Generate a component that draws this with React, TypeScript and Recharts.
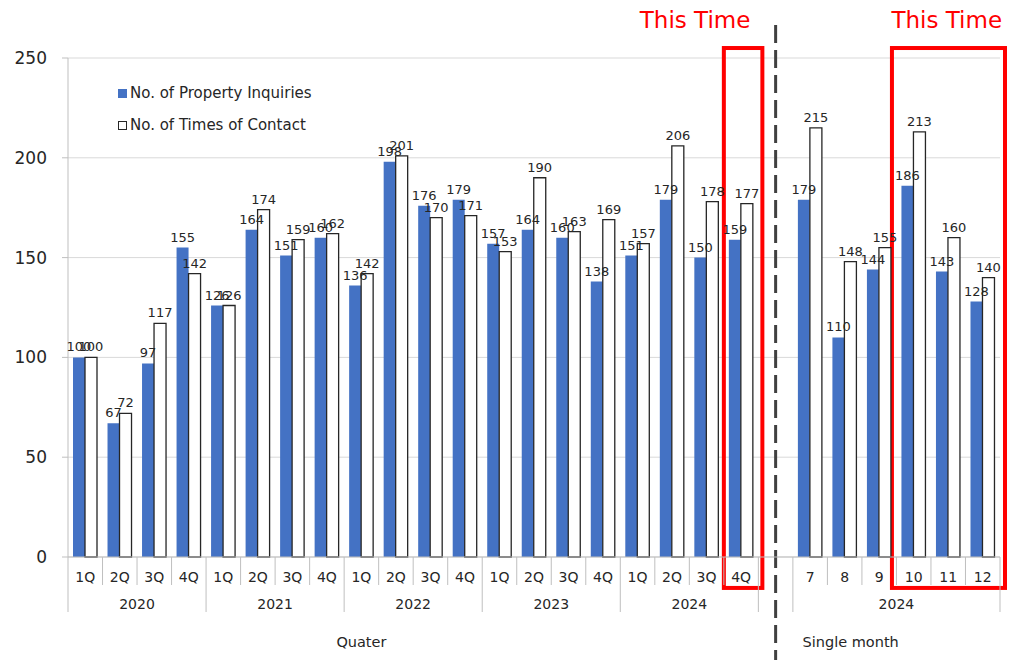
import React from 'react';
import {
  BarChart,
  Bar,
  XAxis,
  YAxis,
  CartesianGrid,
  LabelList,
  Legend,
  ReferenceArea,
  ReferenceLine,
} from 'recharts';

// quarterly figures (2020 1Q = 100)
const quarterYears = ['2020', '2021', '2022', '2023', '2024'];
const quarterLabels = ['1Q', '2Q', '3Q', '4Q'];
const quarterInquiries = [100, 67, 97, 155, 126, 164, 151, 160, 136, 198, 176, 179, 157, 164, 160, 138, 151, 179, 150, 159];
const quarterContacts = [100, 72, 117, 142, 126, 174, 159, 162, 142, 201, 170, 171, 153, 190, 163, 169, 157, 206, 178, 177];

// single month figures
const monthYear = '2024';
const monthLabels = ['7', '8', '9', '10', '11', '12'];
const monthInquiries = [179, 110, 144, 186, 143, 128];
const monthContacts = [215, 148, 155, 213, 160, 140];

const yTicks = [0, 50, 100, 150, 200, 250];

const BLUE = '#4472C4';
const DARK = '#262626';
const GRID = '#d9d9d9';
const AXIS = '#bfbfbf';
const RED = '#ff0000';
const FONT = '"DejaVu Sans", Verdana, sans-serif';

const W = 1021;
const H = 660;
const PLOT_LEFT = 68;
const PLOT_RIGHT = 1000;
const PLOT_BOTTOM = 557;

type Row = {
  key: string;
  label: string;
  year: string;
  showYear: boolean;
  groupStart: boolean;
  inquiries: number | null;
  contacts: number | null;
};

const rows: Row[] = [];
quarterYears.forEach((yr, yi) => {
  quarterLabels.forEach((q, qi) => {
    rows.push({
      key: `${yr}-${q}`,
      label: q,
      year: yr,
      showYear: qi === 1,
      groupStart: qi === 0,
      inquiries: quarterInquiries[yi * 4 + qi],
      contacts: quarterContacts[yi * 4 + qi],
    });
  });
});
rows.push({ key: 'gap', label: '', year: '', showYear: false, groupStart: true, inquiries: null, contacts: null });
monthLabels.forEach((m, mi) => {
  rows.push({
    key: `m-${m}`,
    label: m,
    year: monthYear,
    showYear: mi === 2,
    groupStart: mi === 0,
    inquiries: monthInquiries[mi],
    contacts: monthContacts[mi],
  });
});

const BAND = (PLOT_RIGHT - PLOT_LEFT) / rows.length;

// two level category axis with separators
const CategoryTick = ({ x, y, index }: any) => {
  const row = rows[index];
  if (!row) return null;
  const left = x - BAND / 2;
  const right = x + BAND / 2;
  const isLast = index === rows.length - 1;
  return (
    <g>
      <line x1={left} x2={left} y1={y} y2={row.groupStart ? y + 55 : y + 28} stroke={AXIS} strokeWidth={1} />
      {isLast && <line x1={right} x2={right} y1={y} y2={y + 55} stroke={AXIS} strokeWidth={1} />}
      <text x={x} y={y + 25} textAnchor="middle" fontSize={14} fill={DARK} fontFamily={FONT}>
        {row.label}
      </text>
      {row.showYear && (
        <text x={right} y={y + 52} textAnchor="middle" fontSize={14} fill={DARK} fontFamily={FONT}>
          {row.year}
        </text>
      )}
      {index === 8 && (
        <text x={x} y={y + 90} textAnchor="middle" fontSize={14.5} fill={DARK} fontFamily={FONT}>
          Quater
        </text>
      )}
      {index === 22 && (
        <text x={x + 6} y={y + 90} textAnchor="middle" fontSize={14.5} fill={DARK} fontFamily={FONT}>
          Single month
        </text>
      )}
    </g>
  );
};

const ValueLabel = ({ x, y, width, value }: any) => {
  if (value == null) return null;
  return (
    <text x={x + width / 2} y={y - 6} textAnchor="middle" fontSize={13} fill={DARK} fontFamily={FONT}>
      {value}
    </text>
  );
};

const makeBox = (padL: number, padR: number, anchor: 'start' | 'end', textDx: number) => (props: any) => {
  const { x, y, width, height } = props;
  const bx = x - padL;
  const bw = width + padL + padR;
  const tx = anchor === 'start' ? x + textDx : x + width + textDx;
  return (
    <g>
      <rect x={bx} y={y} width={bw} height={height} fill="none" stroke={RED} strokeWidth={4} />
      <text x={tx} y={y - 20} textAnchor={anchor} fontSize={23} fill={RED} fontFamily={FONT}>
        This Time
      </text>
    </g>
  );
};

const LegendContent = () => (
  <div style={{ fontFamily: FONT, fontSize: 15, color: DARK, lineHeight: '32px' }}>
    <div style={{ display: 'flex', alignItems: 'center' }}>
      <span style={{ width: 9, height: 9, background: BLUE, marginRight: 3, display: 'inline-block' }} />
      No. of Property Inquiries
    </div>
    <div style={{ display: 'flex', alignItems: 'center' }}>
      <span style={{ width: 7, height: 7, background: '#fff', border: `1px solid ${DARK}`, marginRight: 3, display: 'inline-block' }} />
      No. of Times of Contact
    </div>
  </div>
);

export default function App() {
  return (
    <div style={{ position: 'absolute', left: 0, top: 0, width: W, height: H, background: '#fff' }}>
      <BarChart
        width={W}
        height={H}
        data={rows}
        margin={{ top: 58, right: W - PLOT_RIGHT, left: 0, bottom: 0 }}
        barCategoryGap={5}
        barGap={0}
      >
        <CartesianGrid vertical={false} stroke={GRID} strokeWidth={1} />
        <XAxis
          dataKey="key"
          interval={0}
          height={H - PLOT_BOTTOM}
          tickLine={false}
          tickSize={0}
          tickMargin={0}
          axisLine={{ stroke: AXIS }}
          tick={<CategoryTick />}
        />
        <YAxis
          width={PLOT_LEFT}
          domain={[0, 250]}
          ticks={yTicks}
          interval={0}
          axisLine={{ stroke: AXIS }}
          tickLine={{ stroke: AXIS }}
          tickSize={6}
          tickMargin={15}
          tick={{ fontSize: 17, fill: DARK, fontFamily: FONT }}
        />
        <Legend
          layout="vertical"
          align="center"
          verticalAlign="middle"
          content={<LegendContent />}
          wrapperStyle={{ position: 'absolute', left: 118, top: 77, width: 280 }}
        />
        <Bar dataKey="inquiries" fill={BLUE} isAnimationActive={false}>
          <LabelList dataKey="inquiries" content={<ValueLabel />} />
        </Bar>
        <Bar dataKey="contacts" fill="#ffffff" stroke={DARK} strokeWidth={1.3} isAnimationActive={false}>
          <LabelList dataKey="contacts" content={<ValueLabel />} />
        </Bar>
        <ReferenceLine
          segment={[{ x: 'gap', y: 266.5 }, { x: 'gap', y: -52 }]}
          ifOverflow="visible"
          stroke="#404040"
          strokeWidth={3}
          strokeDasharray="18 7"
        />
        <ReferenceArea
          x1="2024-4Q"
          x2="2024-4Q"
          y1={-15.5}
          y2={255}
          ifOverflow="visible"
          shape={makeBox(0, 4, 'end', -8)}
        />
        <ReferenceArea
          x1="m-10"
          x2="m-12"
          y1={-15.5}
          y2={255}
          ifOverflow="visible"
          shape={makeBox(4.5, 5, 'start', -5)}
        />
      </BarChart>
    </div>
  );
}
